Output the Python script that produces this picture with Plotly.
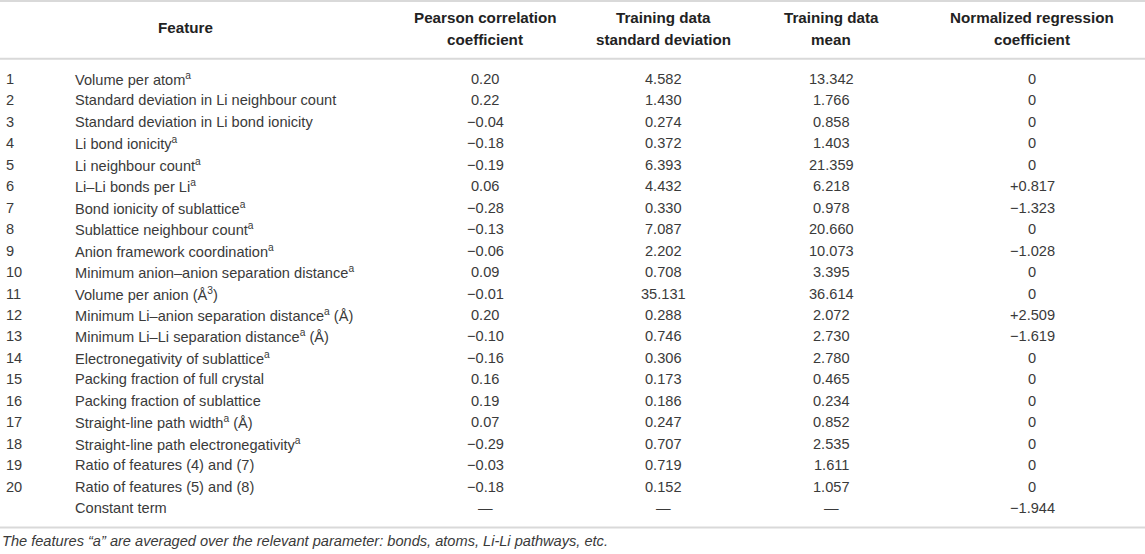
import plotly.graph_objects as go

# table content
row_no = [str(i) for i in range(1, 21)] + [""]
features = [
    "Volume per atom<sup>a</sup>",
    "Standard deviation in Li neighbour count",
    "Standard deviation in Li bond ionicity",
    "Li bond ionicity<sup>a</sup>",
    "Li neighbour count<sup>a</sup>",
    "Li–Li bonds per Li<sup>a</sup>",
    "Bond ionicity of sublattice<sup>a</sup>",
    "Sublattice neighbour count<sup>a</sup>",
    "Anion framework coordination<sup>a</sup>",
    "Minimum anion–anion separation distance<sup>a</sup>",
    "Volume per anion (Å<sup>3</sup>)",
    "Minimum Li–anion separation distance<sup>a</sup> (Å)",
    "Minimum Li–Li separation distance<sup>a</sup> (Å)",
    "Electronegativity of sublattice<sup>a</sup>",
    "Packing fraction of full crystal",
    "Packing fraction of sublattice",
    "Straight-line path width<sup>a</sup> (Å)",
    "Straight-line path electronegativity<sup>a</sup>",
    "Ratio of features (4) and (7)",
    "Ratio of features (5) and (8)",
    "Constant term",
]
pearson = ["0.20", "0.22", "−0.04", "−0.18", "−0.19", "0.06", "−0.28", "−0.13", "−0.06", "0.09",
           "−0.01", "0.20", "−0.10", "−0.16", "0.16", "0.19", "0.07", "−0.29", "−0.03", "−0.18", "—"]
std_dev = ["4.582", "1.430", "0.274", "0.372", "6.393", "4.432", "0.330", "7.087", "2.202", "0.708",
           "35.131", "0.288", "0.746", "0.306", "0.173", "0.186", "0.247", "0.707", "0.719", "0.152", "—"]
mean = ["13.342", "1.766", "0.858", "1.403", "21.359", "6.218", "0.978", "20.660", "10.073", "3.395",
        "36.614", "2.072", "2.730", "2.780", "0.465", "0.234", "0.852", "2.535", "1.611", "1.057", "—"]
norm_coef = ["0", "0", "0", "0", "0", "+0.817", "−1.323", "0", "−1.028", "0",
             "0", "+2.509", "−1.619", "0", "0", "0", "0", "0", "0", "0", "−1.944"]

header_top = ["", "Pearson correlation", "Training data", "Training data", "Normalized regression"]
header_bot = ["", "coefficient", "standard deviation", "mean", "coefficient"]
footnote = "The features “a” are averaged over the relevant parameter: bonds, atoms, Li-Li pathways, etc."

W, H = 1145, 554
# column anchors (pixels from left)
x_no, x_feat = 4, 73
x_centers = [185, 485, 663, 831, 1032]

body = dict(family="Liberation Sans, Arial, sans-serif", size=14.6, color="#3a3a3a")
head = dict(family="Liberation Sans, Arial, sans-serif", size=15.2, color="#222222")

fig = go.Figure()
fig.add_trace(go.Scatter(x=[0], y=[0], mode="markers", marker=dict(opacity=0), hoverinfo="skip"))

ann = []
# header
ann.append(dict(x=x_centers[0], y=-2.38, text="<b>Feature</b>", showarrow=False,
                xanchor="center", yanchor="middle", font=head))
for xc, t1, t2 in zip(x_centers[1:], header_top[1:], header_bot[1:]):
    ann.append(dict(x=xc, y=-2.89, text="<b>" + t1 + "</b>", showarrow=False,
                    xanchor="center", yanchor="middle", font=head))
    ann.append(dict(x=xc, y=-1.82, text="<b>" + t2 + "</b>", showarrow=False,
                    xanchor="center", yanchor="middle", font=head))

cols = [pearson, std_dev, mean, norm_coef]
for i in range(len(features)):
    if row_no[i]:
        ann.append(dict(x=x_no, y=i, text=row_no[i], showarrow=False, xanchor="left",
                        yanchor="middle", font=body))
    ann.append(dict(x=x_feat, y=i, text=features[i], showarrow=False, xanchor="left",
                    yanchor="middle", font=body))
    for xc, col in zip(x_centers[1:], cols):
        ann.append(dict(x=xc, y=i, text=col[i], showarrow=False, xanchor="center",
                        yanchor="middle", font=body))

ann.append(dict(x=0, y=21.54, text="<i>" + footnote + "</i>", showarrow=False,
                xanchor="left", yanchor="middle", font=body))

line = dict(color="#d9d9d9", width=2)
shapes = [
    dict(type="line", x0=0, x1=W, y0=-3.64, y1=-3.64, line=line, layer="below"),
    dict(type="line", x0=0, x1=W, y0=-0.95, y1=-0.95, line=line, layer="below"),
    dict(type="line", x0=0, x1=W, y0=20.9, y1=20.9, line=line, layer="below"),
]

fig.update_layout(
    width=W, height=H, margin=dict(l=0, r=0, t=0, b=0),
    paper_bgcolor="white", plot_bgcolor="white", showlegend=False,
    annotations=ann, shapes=shapes,
    xaxis=dict(range=[0, W], visible=False, fixedrange=True),
    yaxis=dict(range=[22.14, -3.683], visible=False, fixedrange=True),
)

fig.write_html("out.html", config={"displayModeBar": False},
               post_script="document.body.style.margin='0';")
